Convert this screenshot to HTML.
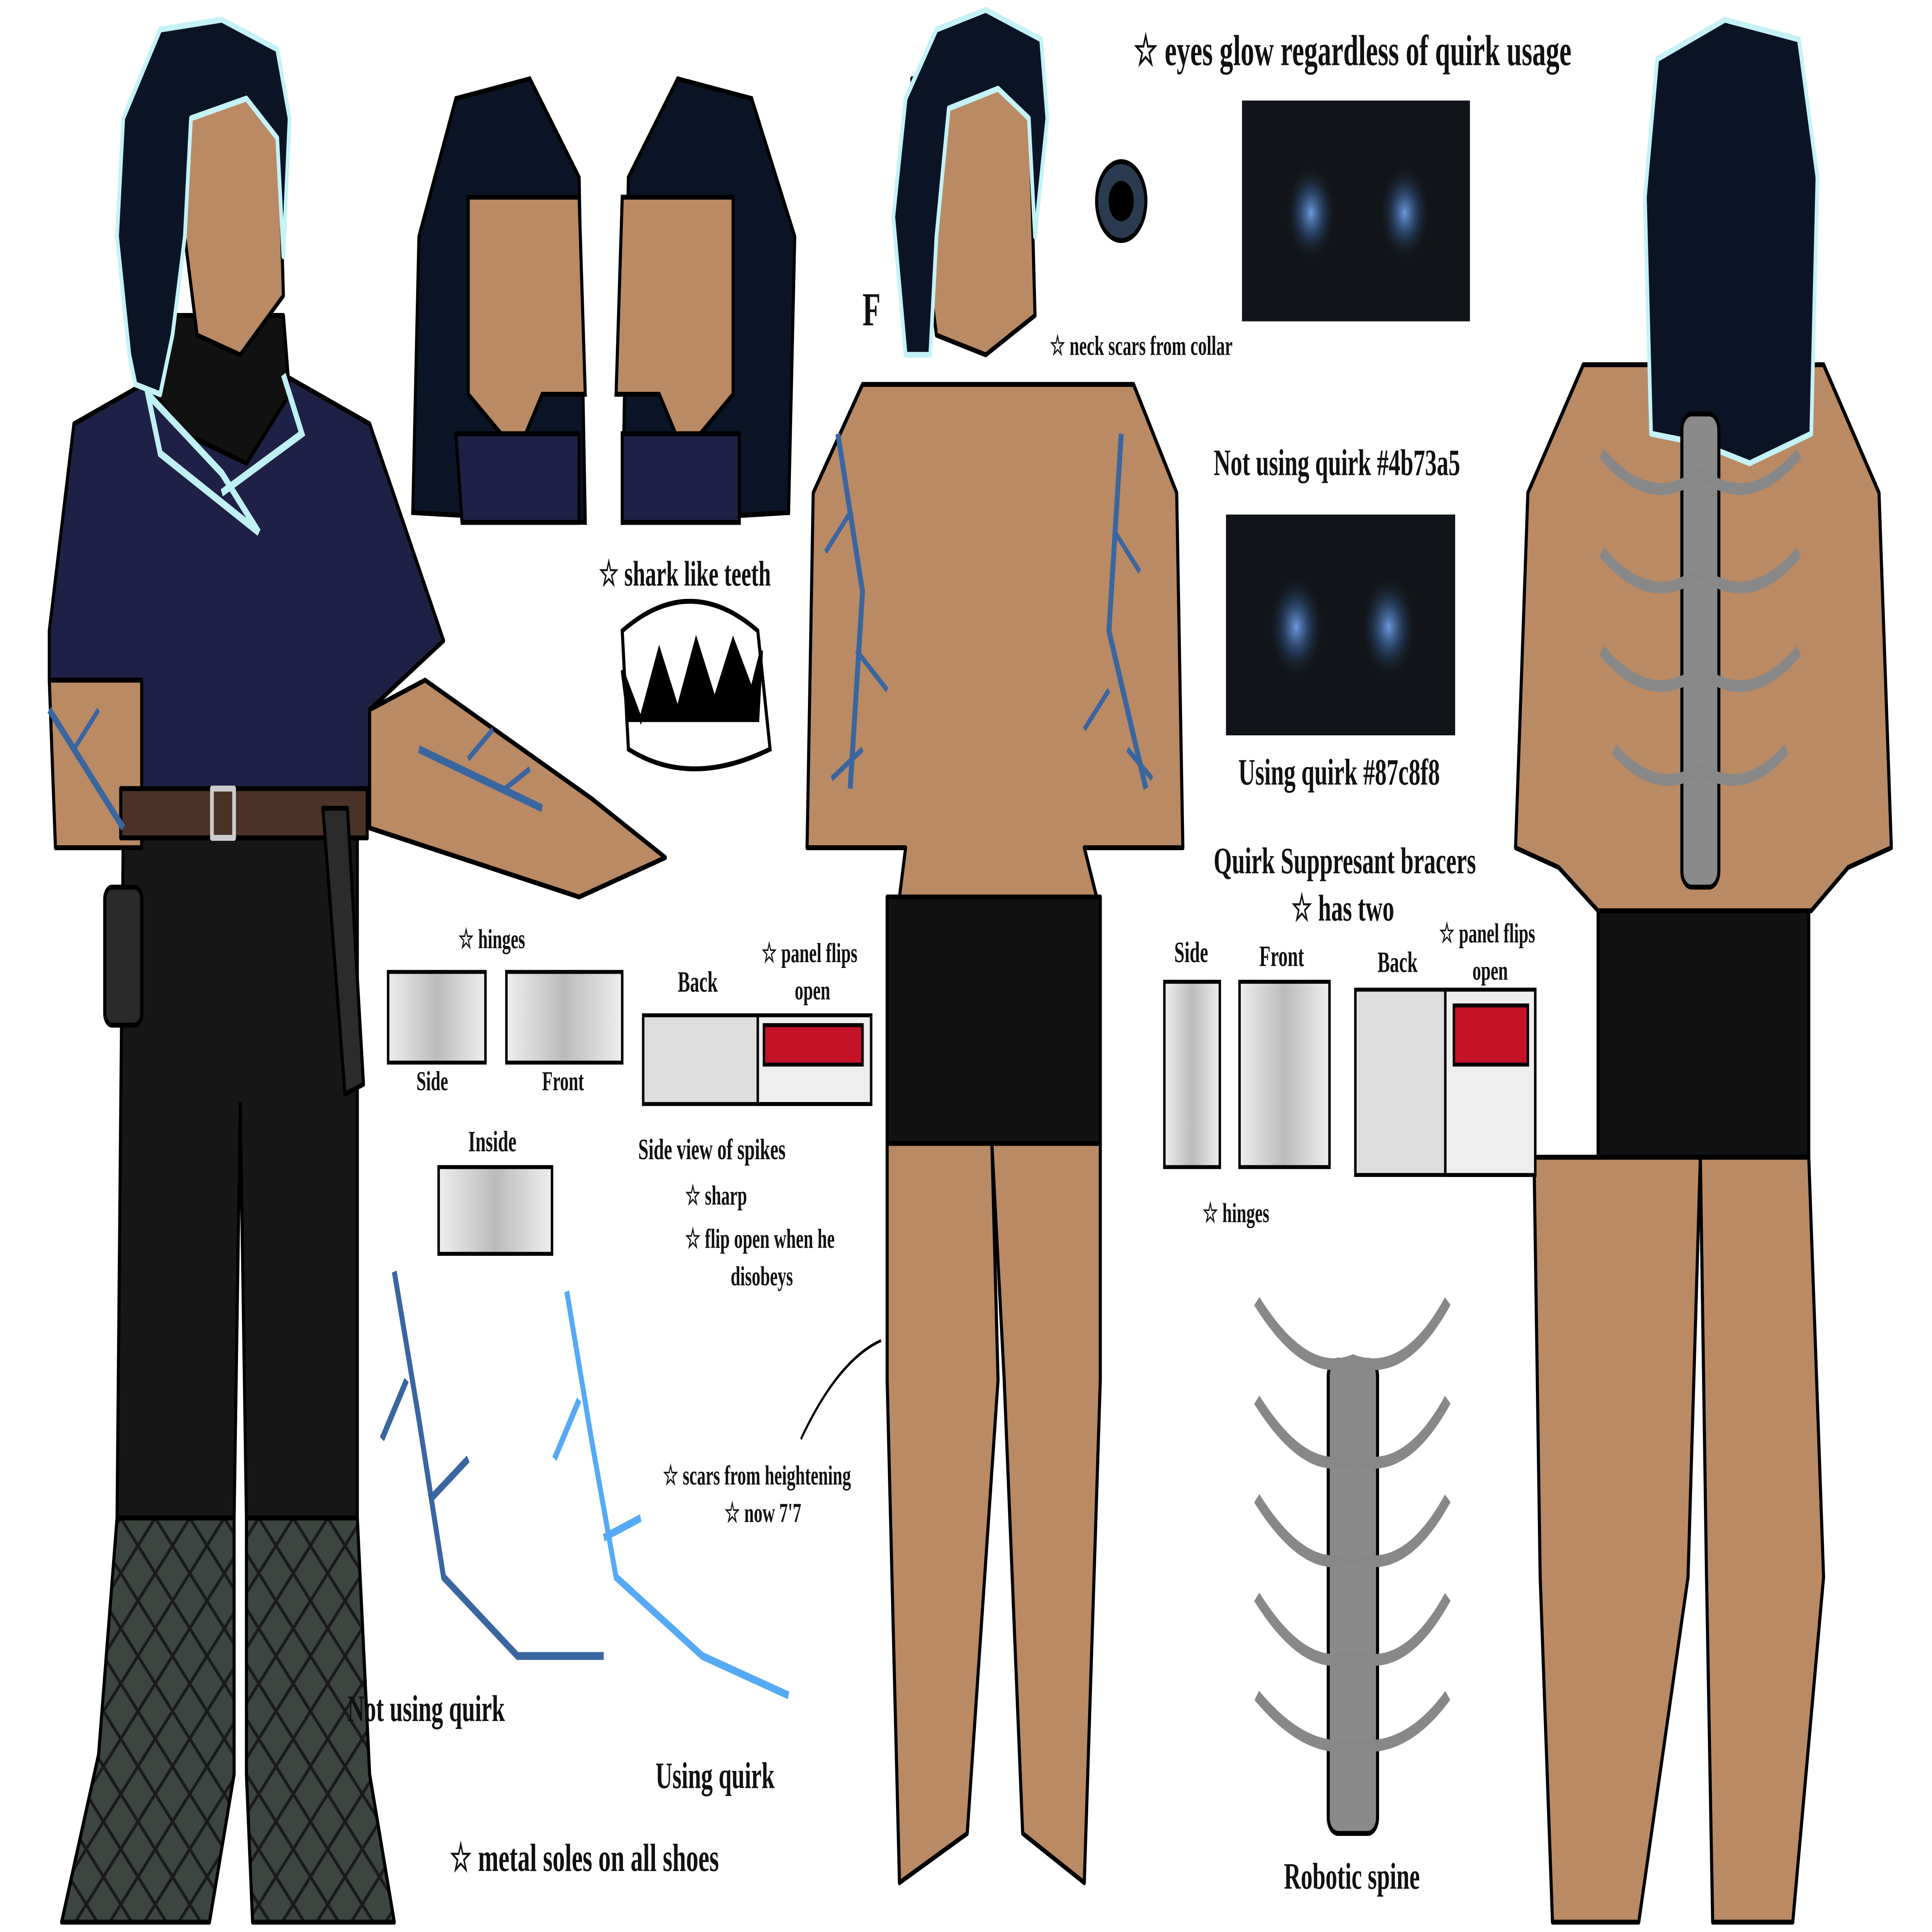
<!DOCTYPE html>
<html><head><meta charset="utf-8"><style>
html,body{margin:0;padding:0;background:#fff;width:100%;height:100%;overflow:hidden;}
svg{display:block;position:fixed;left:0;top:0;width:100vw;height:100vh;}
text{font-family:"Liberation Serif",serif;font-weight:bold;fill:#111;}
</style></head><body>
<svg viewBox="0 0 1568 980" preserveAspectRatio="none" xmlns="http://www.w3.org/2000/svg">
<defs>
<radialGradient id="gl"><stop offset="0" stop-color="#6a9ae0"/><stop offset="0.5" stop-color="#2a4a70" stop-opacity="0.6"/><stop offset="1" stop-color="#111" stop-opacity="0"/></radialGradient>
<linearGradient id="mt" x1="0" x2="1"><stop offset="0" stop-color="#eee"/><stop offset="0.5" stop-color="#bbb"/><stop offset="1" stop-color="#eee"/></linearGradient>
<pattern id="lace" width="28" height="28" patternUnits="userSpaceOnUse"><rect width="28" height="28" fill="#3c4540"/><path d="M0 0L28 28M28 0L0 28" stroke="#1a1a1a" stroke-width="2"/></pattern>
</defs>
<rect width="1568" height="980" fill="#fff"/>
<g stroke="#000" stroke-width="2.5" stroke-linejoin="round">
<path d="M50 975 L80 890 L95 770 L190 770 L190 900 L170 975Z" fill="url(#lace)"/>
<path d="M200 770 L290 770 L300 900 L320 975 L205 975 L200 900Z" fill="url(#lace)"/>
<path d="M100 425 L290 425 L290 770 L200 770 L195 560 L190 770 L95 770Z" fill="#161616"/>
<path d="M40 320 L60 215 L130 190 L230 190 L300 215 L360 325 L300 360 L300 405 L100 405 L115 345 L40 345Z" fill="#1f2045"/>
<path d="M40 345 L115 345 L115 430 L45 430Z" fill="#b98a64"/>
<path d="M300 360 L345 345 L480 405 L540 435 L470 455 L300 420Z" fill="#b98a64"/>
<rect x="98" y="400" width="200" height="25" fill="#4a3226"/>
<rect x="172" y="400" width="18" height="25" fill="none" stroke="#ccc" stroke-width="3"/>
<rect x="85" y="450" width="30" height="70" rx="6" fill="#2a2a2a"/>
<path d="M262 410 L282 410 L295 550 L280 555Z" fill="#2b2b2b"/>
<path d="M130 160 L230 160 L235 200 L200 235 L150 220 L120 195Z" fill="#111"/>
<path d="M150 40 L225 40 L230 150 L195 180 L160 170 L150 120Z" fill="#b98a64"/>
<path d="M105 180 L95 120 L100 60 L130 15 L180 10 L225 25 L235 60 L230 130 L225 70 L200 50 L155 60 L150 120 L140 170 L130 200 L110 195Z" fill="#0b1426" stroke="#c4f2f6" stroke-width="3"/>
<path d="M720 580 L805 580 L810 700 L785 930 L730 955 L720 700Z" fill="#b98a64"/>
<path d="M805 580 L893 580 L893 700 L880 955 L830 930 L815 700Z" fill="#b98a64"/>
<rect x="720" y="455" width="173" height="125" fill="#111"/>
<path d="M700 195 L920 195 L955 250 L960 430 L880 430 L890 455 L730 455 L735 430 L655 430 L660 250Z" fill="#b98a64"/>
<path d="M740 40 L835 40 L840 160 L800 180 L760 170 L750 120Z" fill="#b98a64"/>
<path d="M735 180 L725 110 L735 50 L760 15 L800 5 L845 20 L850 60 L840 120 L835 60 L810 45 L770 55 L760 120 L755 180Z" fill="#0b1426" stroke="#c4f2f6" stroke-width="3"/>
<path d="M1245 587 L1380 587 L1370 800 L1330 975 L1260 975 L1250 800Z" fill="#b98a64"/>
<path d="M1380 587 L1468 587 L1480 800 L1455 975 L1390 975 L1385 800Z" fill="#b98a64"/>
<rect x="1297" y="462" width="171" height="125" fill="#111"/>
<path d="M1285 185 L1480 185 L1525 250 L1535 430 L1500 440 L1470 462 L1297 462 L1265 440 L1230 430 L1240 250Z" fill="#b98a64"/>
<path d="M1340 220 L1335 100 L1345 30 L1400 10 L1460 20 L1475 90 L1470 220 L1420 235 L1380 225Z" fill="#0b1426" stroke="#c4f2f6" stroke-width="3"/>
<rect x="1365" y="210" width="30" height="240" rx="8" fill="#8a8a8a"/>
<rect x="1078" y="690" width="40" height="240" rx="8" fill="#8a8a8a"/>
</g>
<path d="M120 200 L180 240 L210 270 L130 230 Z M230 190 L245 220 L180 250" stroke="#bff0f5" stroke-width="4" fill="none"/>
<g stroke="#888" stroke-width="6" fill="none">
<path d="M1300 230Q1340 260 1380 240Q1420 260 1460 230M1300 280Q1340 310 1380 290Q1420 310 1460 280M1300 330Q1340 360 1380 340Q1420 360 1460 330M1310 380Q1345 405 1380 390Q1415 405 1450 380"/>
<path d="M1020 660Q1060 700 1098 690Q1140 700 1175 660M1020 710Q1060 750 1098 740Q1140 750 1175 710M1020 760Q1060 800 1098 790Q1140 800 1175 760M1020 810Q1060 850 1098 840Q1140 850 1175 810M1020 860Q1060 890 1098 885Q1140 890 1175 860"/>
</g>
<g stroke="#3a66a0" stroke-width="4" fill="none">
<path d="M320 645L340 720L360 800L420 840L490 840M330 700L310 730M350 760L380 740"/>
<path d="M460 655L480 730L500 800L570 840L640 860M470 710L450 740M490 780L520 770" stroke="#56aaf5"/>
<path d="M680 220L700 300L690 400M910 220L900 320L930 400M40 360L100 420M340 380L440 410"/>
<path d="M690 260L670 280M695 330L720 350M700 380L675 395M905 270L925 290M900 350L880 370M915 380L935 395M60 380L80 360M380 385L400 370M410 400L430 390" stroke-width="3"/>
</g>
<g stroke="#000" stroke-width="2.5">
<path d="M335 260L340 120L370 50L430 40L470 90L475 265Z" fill="#0b1426"/>
<path d="M380 100L470 100L475 200L440 200L420 230L380 200Z" fill="#b98a64"/>
<path d="M370 220L470 220L470 265L375 265Z" fill="#1f2045"/>
<path d="M505 265L510 90L550 40L610 50L645 120L640 260Z" fill="#0b1426"/>
<path d="M505 100L595 100L595 200L555 230L535 200L500 200Z" fill="#b98a64"/>
<path d="M505 220L600 220L600 265L505 265Z" fill="#1f2045"/>
<path d="M505 320Q560 290 615 320L625 380Q560 400 510 380Z" fill="#fff"/>
<path d="M505 340L520 365L535 330L550 360L565 325L580 355L595 325L610 350L618 330L615 365L510 365Z" fill="#000"/>
<circle cx="910" cy="102" r="20" fill="#2a3a50"/><circle cx="910" cy="102" r="9" fill="#000"/>
</g>
<rect x="1008" y="51" width="185" height="112" fill="#111418"/>
<ellipse cx="1064" cy="108" rx="22" ry="26" fill="url(#gl)"/><ellipse cx="1140" cy="108" rx="22" ry="26" fill="url(#gl)"/>
<rect x="995" y="261" width="186" height="112" fill="#111418"/>
<ellipse cx="1052" cy="318" rx="24" ry="28" fill="url(#gl)"/><ellipse cx="1127" cy="318" rx="24" ry="28" fill="url(#gl)"/>
<g stroke="#000" stroke-width="2">
<rect x="315" y="493" width="79" height="46" fill="url(#mt)"/>
<rect x="411" y="493" width="94" height="46" fill="url(#mt)"/>
<rect x="522" y="515" width="185" height="45" fill="#ddd"/>
<rect x="615" y="515" width="92" height="45" fill="#eee"/>
<rect x="620" y="520" width="80" height="20" fill="#c41228"/>
<rect x="356" y="592" width="92" height="44" fill="url(#mt)"/>
<rect x="945" y="498" width="45" height="94" fill="url(#mt)"/>
<rect x="1006" y="498" width="73" height="94" fill="url(#mt)"/>
<rect x="1100" y="502" width="146" height="94" fill="#ddd"/>
<rect x="1173" y="502" width="73" height="94" fill="#eee"/>
<rect x="1180" y="510" width="60" height="30" fill="#c41228"/>
</g>
<g font-size="17">
<text x="920" y="33" font-size="22">☆ eyes glow regardless of quirk usage</text>
<text x="852" y="180" font-size="14">☆ neck scars from collar</text>
<text x="985" y="241" font-size="19">Not using quirk #4b73a5</text>
<text x="1005" y="398" font-size="19">Using quirk #87c8f8</text>
<text x="985" y="443" font-size="19">Quirk Suppresant bracers</text>
<text x="1048" y="467" font-size="19">☆ has two</text>
<text x="953" y="488" font-size="15">Side</text><text x="1022" y="490" font-size="15">Front</text><text x="1118" y="493" font-size="15">Back</text>
<text x="1168" y="478" font-size="14">☆ panel flips</text><text x="1195" y="497" font-size="14">open</text>
<text x="976" y="620" font-size="14">☆ hinges</text>
<text x="486" y="297" font-size="18">☆ shark like teeth</text>
<text x="372" y="481" font-size="14">☆ hinges</text>
<text x="338" y="553" font-size="14">Side</text><text x="440" y="553" font-size="14">Front</text>
<text x="550" y="503" font-size="15">Back</text><text x="618" y="488" font-size="14">☆ panel flips</text><text x="645" y="507" font-size="14">open</text>
<text x="380" y="584" font-size="15">Inside</text>
<text x="518" y="588" font-size="15">Side view of spikes</text>
<text x="556" y="611" font-size="14">☆ sharp</text>
<text x="556" y="633" font-size="14">☆ flip open when he</text><text x="593" y="652" font-size="14">disobeys</text>
<text x="538" y="753" font-size="14">☆ scars from heightening</text><text x="588" y="772" font-size="14">☆ now 7'7</text>
<text x="282" y="873" font-size="19">Not using quirk</text>
<text x="532" y="907" font-size="19">Using quirk</text>
<text x="365" y="949" font-size="20">☆ metal soles on all shoes</text>
<text x="1042" y="958" font-size="19">Robotic spine</text>
<text x="700" y="165" font-size="24">F</text>
</g>
<path d="M650 730Q680 690 715 680" stroke="#000" stroke-width="1.5" fill="none"/>
</svg>
</body></html>
